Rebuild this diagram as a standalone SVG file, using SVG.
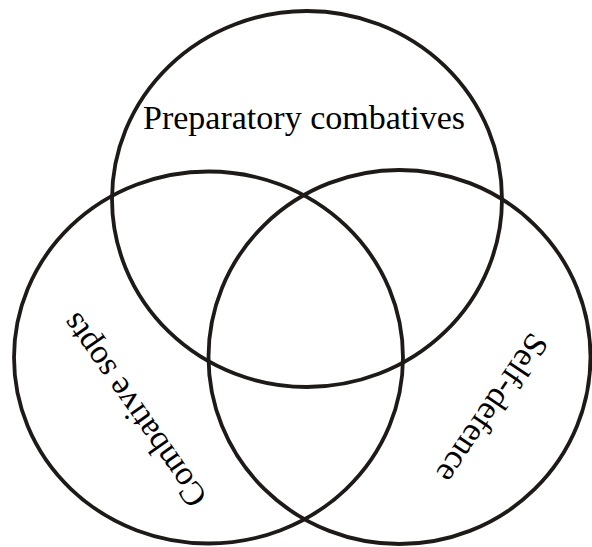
<svg xmlns="http://www.w3.org/2000/svg" width="592" height="547" viewBox="0 0 592 547">
<style>
.ring{fill:none;stroke:#1e1a18;stroke-width:3.8}
.lbl{font-family:"Liberation Serif","Times New Roman",serif;font-size:34px;fill:#000;text-anchor:middle}
</style>
<rect width="592" height="547" fill="#fff"/>
<g id="connectors"></g>
<g id="preparatory">
<ellipse class="ring" cx="307" cy="199" rx="195" ry="188"/>
<text class="lbl" x="304" y="129">Preparatory combatives</text>
</g>
<g id="combative">
<ellipse class="ring" cx="208.5" cy="357.5" rx="194.5" ry="186"/>
<text class="lbl" transform="translate(143 404) rotate(235)">Combative sopts</text>
</g>
<g id="selfdefence">
<ellipse class="ring" cx="399.5" cy="357" rx="191" ry="187"/>
<text class="lbl" transform="translate(483 402) rotate(124)">Self-defence</text>
</g>
</svg>
